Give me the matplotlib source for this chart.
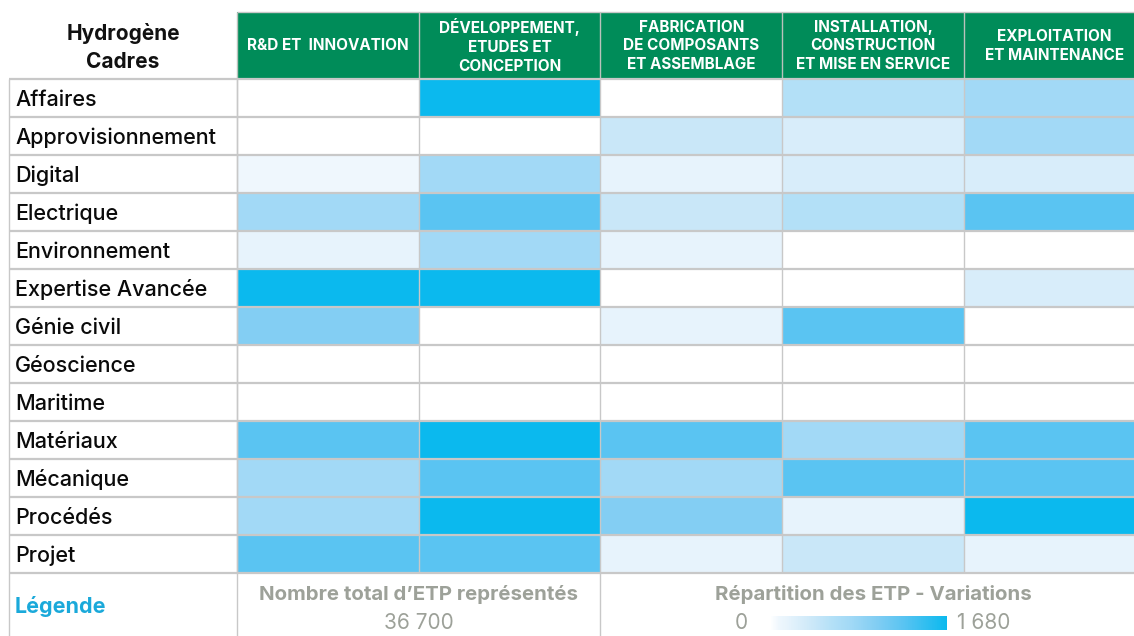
import numpy as np
import matplotlib.pyplot as plt
from matplotlib.colors import LinearSegmentedColormap, Normalize
from matplotlib.patches import Rectangle
from matplotlib.colorbar import ColorbarBase

plt.rcParams['font.family'] = ['Inter', 'DejaVu Sans']

corner_title = "Hydrogène\nCadres"
stages = ["R&D ET  INNOVATION",
          "DÉVELOPPEMENT,\nETUDES ET\nCONCEPTION",
          "FABRICATION\nDE COMPOSANTS\nET ASSEMBLAGE",
          "INSTALLATION,\nCONSTRUCTION\nET MISE EN SERVICE",
          "EXPLOITATION\nET MAINTENANCE"]
metiers = ["Affaires", "Approvisionnement", "Digital", "Electrique", "Environnement",
           "Expertise Avancée", "Génie civil", "Géoscience", "Maritime", "Matériaux",
           "Mécanique", "Procédés", "Projet"]
# ETP per metier and stage (estimated from the colour shades)
etp = np.array([
    [0, 1680, 0, 590, 760],
    [0, 0, 420, 290, 760],
    [80, 760, 170, 290, 290],
    [760, 1260, 420, 590, 1260],
    [170, 760, 170, 0, 0],
    [1680, 1680, 0, 0, 290],
    [1000, 0, 170, 1260, 0],
    [0, 0, 0, 0, 0],
    [0, 0, 0, 0, 0],
    [1260, 1680, 1260, 760, 1260],
    [760, 1260, 760, 1260, 1260],
    [760, 1680, 1000, 170, 1680],
    [1260, 1260, 170, 420, 170],
])
legend_title = "Légende"
total_label = "Nombre total d\u2019ETP représentés"
total_value = "36 700"
scale_label = "Répartition des ETP - Variations"
etp_min, etp_max = 0, 1680

# colour scale: white -> light blue -> cyan
anchors = [0, 80, 170, 290, 420, 590, 760, 1000, 1260, 1680]
shades = ["#FFFFFF", "#EFF7FD", "#E6F3FC", "#D8EDFA", "#C9E7F8", "#B3E0F7",
          "#A2D9F6", "#83CEF3", "#5BC4F2", "#0BB9EE"]
cmap = LinearSegmentedColormap.from_list(
    "etp", [(a / etp_max, c) for a, c in zip(anchors, shades)])
norm = Normalize(etp_min, etp_max)

W, H = 1134, 636
fig = plt.figure(figsize=(W / 100, H / 100), dpi=100)

# layout in pixels
x_lab, x0, cw = 9, 237, 181.7
y_head, y0, rh = 12, 79, 38
n_r, n_c = etp.shape
y_end = y0 + n_r * rh
x_end = x0 + n_c * cw

# heatmap cells
hm = fig.add_axes([x0 / W, 1 - y_end / H, n_c * cw / W, n_r * rh / H])
hm.pcolormesh(etp, cmap=cmap, norm=norm)
hm.set_xlim(0, n_c)
hm.set_ylim(n_r, 0)
hm.axis('off')

# overlay for header, grid and text
ax = fig.add_axes([0, 0, 1, 1], zorder=3)
ax.patch.set_alpha(0)
ax.set_xlim(0, W)
ax.set_ylim(H, 0)
ax.axis('off')

grid = "#C8C8C8"
ax.add_patch(Rectangle((x0, y_head), x_end - x0, y0 - y_head, fc="#008C59", ec="none"))
ax.hlines(y_head, x0, W, color=grid, lw=1)
for j in range(n_c + 1):
    ax.vlines(x0 + j * cw, y_head, y0, color="#B9C2BC", lw=1)
    ax.vlines(x0 + j * cw, y0, y_end, color=grid, lw=1)
for i in range(n_r + 1):
    ax.hlines(y0 + i * rh, x_lab, W, color=grid, lw=1.6)
ax.vlines([x_lab, x0], y0, H, color=grid, lw=1)
ax.vlines(x0 + 2 * cw, y_end, H, color=grid, lw=1)

ax.text((x_lab + x0) / 2, (y_head + y0) / 2 + 2, corner_title, ha='center', va='center',
        fontsize=15, fontweight='bold', color='#111111', linespacing=1.45)
for j, s in enumerate(stages):
    ax.text(x0 + (j + 0.5) * cw, (y_head + y0) / 2 + 0.5, s, ha='center', va='center',
            fontsize=11, fontweight='bold', color='white', linespacing=1.3)
for i, m in enumerate(metiers):
    ax.text(15, y0 + (i + 0.5) * rh + 2, m, ha='left', va='center', fontsize=15.5,
            fontweight='medium', color='#0A0A0A')

gray = "#9DA199"
y_leg = (y_end + H) / 2
ax.text(15, y_leg + 2, legend_title, ha='left', va='center', fontsize=15.5,
        fontweight='bold', color='#1AA9DA')
ax.text(x0 + cw, 595, total_label, ha='center', va='center', fontsize=14.7,
        fontweight='bold', color=gray)
ax.text(x0 + cw, 623, total_value, ha='center', va='center', fontsize=15, color=gray)
ax.text(873, 595, scale_label, ha='center', va='center', fontsize=14.7,
        fontweight='bold', color=gray)
ax.text(741, 623, str(etp_min), ha='center', va='center', fontsize=15, color=gray)
ax.text(957, 623, f"{etp_max:,}".replace(",", " "), ha='left', va='center',
        fontsize=15, color=gray)

cax = fig.add_axes([770 / W, 1 - 630 / H, (947 - 770) / W, 14 / H])
cb = ColorbarBase(cax, cmap=cmap, norm=norm, orientation='horizontal')
cb.outline.set_visible(False)
cax.set_xticks([])
cax.set_yticks([])

fig.savefig("out.png", dpi=100)
